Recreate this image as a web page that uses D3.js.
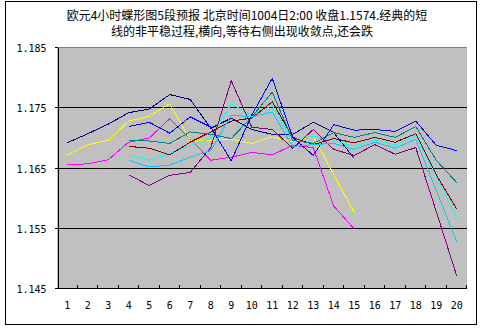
<!DOCTYPE html>
<html>
<head>
<meta charset="utf-8">
<script src="https://cdn.jsdelivr.net/npm/d3@7"></script>
<style>
  html, body { margin: 0; padding: 0; background: #ffffff; }
  svg { display: block; }
  .title { font-family: "Noto Sans CJK SC", sans-serif; font-size: 12px; fill: #000; }
  .axis text { font-family: "DejaVu Sans Mono", monospace; font-size: 10px; fill: #000; }
</style>
</head>
<body>
<script>
// Title lines
const titleLines = [
  "欧元4小时蝶形图5段预报 北京时间1004日2:00 收盘1.1574.经典的短",
  "线的非平稳过程,横向,等待右侧出现收敛点,还会跌"
];

// Category axis (4-hour bars 1..20)
const categories = ["1","2","3","4","5","6","7","8","9","10",
                    "11","12","13","14","15","16","17","18","19","20"];

// Value axis ticks
const yTicks = [1.145, 1.155, 1.165, 1.175, 1.185];

// Segments covering bars 1–15
const navySeries    = [1.1691, 1.1706, 1.1722, 1.1741, 1.1747, 1.1771, 1.1763, 1.1715, 1.1732, 1.1713, 1.1705, 1.1705, 1.1725, 1.1708, 1.1665];
const magentaSeries = [1.1655, 1.1656, 1.1663, 1.1692, 1.1699, 1.1731, 1.1697, 1.1662, 1.1667, 1.1675, 1.1671, 1.1687, 1.1683, 1.1586, 1.1548];
const yellowSeries  = [1.1671, 1.1688, 1.1695, 1.1727, 1.1735, 1.1756, 1.1695, 1.1695, 1.1697, 1.1690, 1.1701, 1.1693, 1.1702, 1.1638, 1.1575];

// Segments covering bars 4–20
const cyanSeries    = [1.1671, 1.1662, 1.1673, 1.1687, 1.1698, 1.1756, 1.1737, 1.1753, 1.1695, 1.1702, 1.1695, 1.1685, 1.1696, 1.1687, 1.1703, 1.1635, 1.1567];
const purpleSeries  = [1.1638, 1.1620, 1.1637, 1.1642, 1.1683, 1.1794, 1.1717, 1.1713, 1.1682, 1.1713, 1.1680, 1.1670, 1.1688, 1.1672, 1.1683, 1.1577, 1.1470];
const darkRedSeries = [1.1685, 1.1682, 1.1671, 1.1692, 1.1709, 1.1727, 1.1732, 1.1759, 1.1700, 1.1688, 1.1698, 1.1691, 1.1700, 1.1692, 1.1706, 1.1638, 1.1581];
const tealSeries    = [1.1695, 1.1694, 1.1690, 1.1709, 1.1705, 1.1698, 1.1734, 1.1775, 1.1695, 1.1690, 1.1708, 1.1700, 1.1708, 1.1700, 1.1718, 1.1662, 1.1625];
const blueSeries    = [1.1718, 1.1725, 1.1707, 1.1734, 1.1717, 1.1661, 1.1737, 1.1798, 1.1700, 1.1670, 1.1721, 1.1712, 1.1713, 1.1710, 1.1727, 1.1687, 1.1678];
const skySeries     = [1.1662, 1.1651, 1.1654, 1.1667, 1.1678, 1.1737, 1.1734, 1.1742, 1.1685, 1.1688, 1.1690, 1.1680, 1.1692, 1.1682, 1.1697, 1.1612, 1.1527];

// Draw list: values, first category index, stroke colour
const seriesList = [
  { values: navySeries,    start: 0, color: "#000080" },
  { values: magentaSeries, start: 0, color: "#FF00FF" },
  { values: yellowSeries,  start: 0, color: "#FFFF00" },
  { values: cyanSeries,    start: 3, color: "#00FFFF" },
  { values: purpleSeries,  start: 3, color: "#800080" },
  { values: darkRedSeries, start: 3, color: "#800000" },
  { values: tealSeries,    start: 3, color: "#008080" },
  { values: blueSeries,    start: 3, color: "#0000FF" },
  { values: skySeries,     start: 3, color: "#00CCFF" }
];

const W = 483, H = 331;
const plot = { left: 57, right: 467, top: 47, bottom: 288 };

const svg = d3.select("body").append("svg")
  .attr("width", W).attr("height", H);

// Outer chart frame
svg.append("rect")
  .attr("x", 5.5).attr("y", 1.5)
  .attr("width", 471).attr("height", 323)
  .attr("fill", "#fff").attr("stroke", "#000").attr("stroke-width", 1);

// Title
svg.append("text").attr("class", "title")
  .attr("x", 247).attr("y", 20).attr("text-anchor", "middle")
  .text(titleLines[0]);
svg.append("text").attr("class", "title")
  .attr("x", 242).attr("y", 35.5).attr("text-anchor", "middle")
  .text(titleLines[1]);

const x = d3.scaleBand().domain(categories).range([plot.left, plot.right]).padding(0);
const y = d3.scaleLinear().domain([yTicks[0], yTicks[yTicks.length - 1]]).range([plot.bottom, plot.top]);
const bw = x.bandwidth();

// Plot background
svg.append("rect")
  .attr("x", plot.left).attr("y", plot.top)
  .attr("width", plot.right - plot.left).attr("height", plot.bottom - plot.top)
  .attr("fill", "#C0C0C0");

// Horizontal gridlines (top edge drawn grey)
svg.append("g").selectAll("line")
  .data(yTicks.slice(1))
  .join("line")
  .attr("x1", plot.left).attr("x2", plot.right)
  .attr("y1", d => Math.round(y(d)) + 0.5).attr("y2", d => Math.round(y(d)) + 0.5)
  .attr("stroke", (d, i, n) => i === n.length - 1 ? "#808080" : "#000")
  .attr("shape-rendering", "crispEdges");

// Value axis
const yAxis = svg.append("g").attr("class", "axis")
  .attr("transform", `translate(${plot.left + 0.5},0)`)
  .call(d3.axisLeft(y).tickValues(yTicks).tickFormat(d3.format(".3f"))
        .tickSize(3).tickSizeOuter(0).tickPadding(8));
yAxis.selectAll("line, path").attr("stroke", "#000").attr("shape-rendering", "crispEdges");
yAxis.selectAll("text").attr("dy", "0.45em");

// Category axis labels
const xAxis = svg.append("g").attr("class", "axis")
  .attr("transform", `translate(0,${plot.bottom})`)
  .call(d3.axisBottom(x).tickSize(0).tickPadding(14));
xAxis.select(".domain").remove();

// Category axis line and boundary tick marks (pointing into the plot)
svg.append("line")
  .attr("x1", plot.left).attr("x2", plot.right)
  .attr("y1", plot.bottom + 0.5).attr("y2", plot.bottom + 0.5)
  .attr("stroke", "#000").attr("shape-rendering", "crispEdges");
svg.append("g").selectAll("line")
  .data(categories.slice(1).concat(["end"]))
  .join("line")
  .attr("x1", d => Math.round(d === "end" ? plot.right : x(d)) - 0.5)
  .attr("x2", d => Math.round(d === "end" ? plot.right : x(d)) - 0.5)
  .attr("y1", plot.bottom - 3).attr("y2", plot.bottom)
  .attr("stroke", "#000").attr("shape-rendering", "crispEdges");

// Series lines
const line = d3.line()
  .x(d => x(categories[d.i]) + bw / 2)
  .y(d => y(d.v));

svg.append("g").selectAll("path")
  .data(seriesList)
  .join("path")
  .attr("d", s => line(s.values.map((v, k) => ({ v, i: s.start + k }))))
  .attr("fill", "none")
  .attr("stroke", s => s.color)
  .attr("stroke-width", 1)
  .attr("shape-rendering", "crispEdges");
</script>
</body>
</html>
